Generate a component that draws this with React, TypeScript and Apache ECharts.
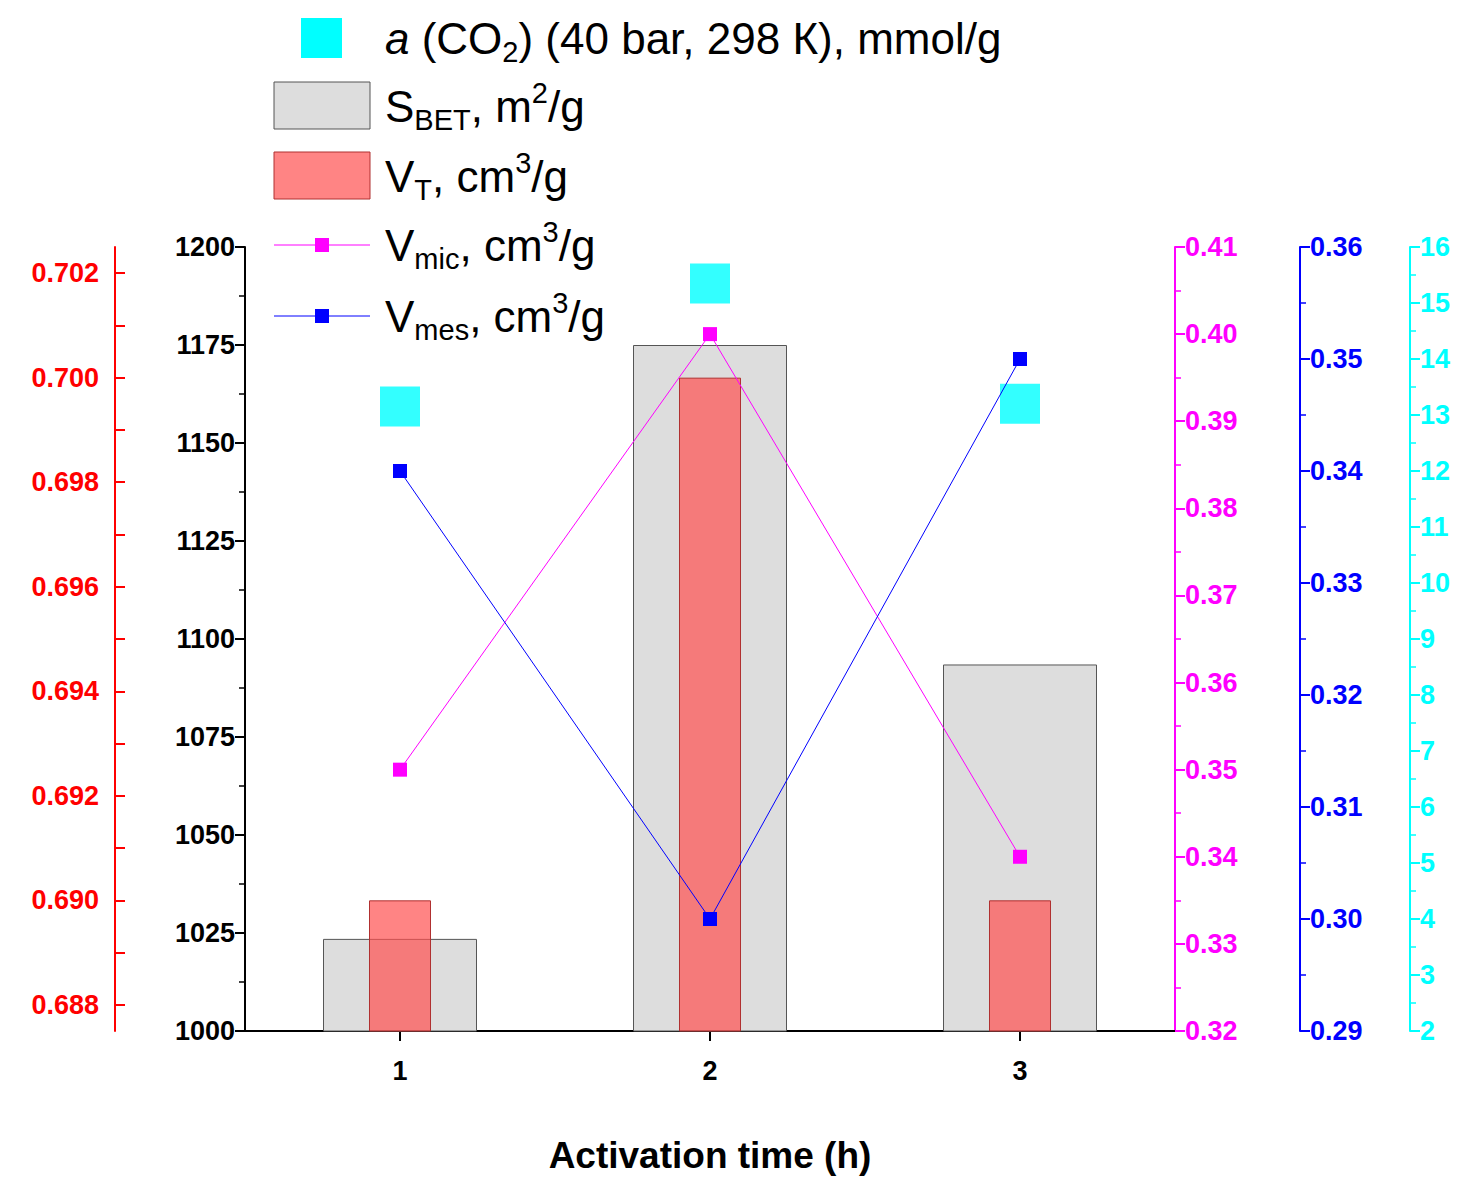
import React, { useEffect, useRef } from "react";
import * as echarts from "echarts";

const categories = [1, 2, 3];
const sBet = [1023.5, 1175, 1093.5];
const vT = [0.690, 0.700, 0.690];
const vMic = [0.350, 0.400, 0.340];
const vMes = [0.340, 0.300, 0.350];
const co2 = [13.15, 15.35, 13.2];
const redTicks = [0.688, 0.69, 0.692, 0.694, 0.696, 0.698, 0.7, 0.702];
const redMinor = [0.688, 0.689, 0.69, 0.691, 0.692, 0.693, 0.694, 0.695, 0.696, 0.697, 0.698, 0.699, 0.7, 0.701, 0.702];

const F = "Liberation Sans, Arial, sans-serif";
const FS = 27;

function yAx(color: string, pos: string, offset: number, min: number, max: number, interval: number, dec: number, extra: any = {}) {
  return {
    type: "value", position: pos, offset, min, max, interval,
    axisLine: { show: true, lineStyle: { color, width: 2 } },
    axisTick: { show: true, length: 10, lineStyle: { color, width: 2 } },
    minorTick: { show: true, splitNumber: 2, length: 6, lineStyle: { color, width: 1.5 } },
    splitLine: { show: false },
    axisLabel: { color, fontFamily: F, fontWeight: "bold", fontSize: FS, margin: 10, formatter: (v: number) => v.toFixed(dec) },
    ...extra,
  };
}

export default function App() {
  const ref = useRef<HTMLDivElement>(null);
  useEffect(() => {
    document.body.style.margin = "0";
    const chart = echarts.init(ref.current!, null, { renderer: "svg" });
    const xBase = {
      type: "value", min: 0.5, max: 3.5, interval: 0.5,
      splitLine: { show: false },
    };
    const mkText = (x: number, y: number, t: string) => ({
      type: "text", x, y,
      style: {
        text: t, fill: "#000", fontFamily: F, fontSize: 44, verticalAlign: "middle",
        rich: {
          n: { fontSize: 44, fontFamily: F, lineHeight: 56 },
          i: { fontSize: 44, fontFamily: F, fontStyle: "italic", lineHeight: 56 },
          sub: { fontSize: 29, fontFamily: F, verticalAlign: "bottom", lineHeight: 56, padding: [20, 0, 0, 0] },
          sup: { fontSize: 29, fontFamily: F, verticalAlign: "top", lineHeight: 56, padding: [0, 0, 18, 0] },
        },
      },
    });
    chart.setOption({
      animation: false,
      grid: { left: 245, right: 307, top: 247, bottom: 141 },
      xAxis: [
        {
          ...xBase,
          name: "Activation time (h)", nameLocation: "middle", nameGap: 106,
          nameTextStyle: { fontFamily: F, fontWeight: "bold", fontSize: 37, color: "#000" },
          axisLine: { lineStyle: { color: "#000", width: 2 } },
          axisTick: { show: true, length: 10, inside: false, customValues: [1, 2, 3], lineStyle: { color: "#000", width: 2 } },
          minorTick: { show: false },
          axisLabel: { customValues: categories, color: "#000", fontFamily: F, fontWeight: "bold", fontSize: FS, margin: 26 },
        },
        { ...xBase, show: false },
      ],
      yAxis: [
        yAx("#000", "left", 0, 1000, 1200, 25, 0),
        {
          type: "value", position: "left", offset: 130, min: 0.6875, max: 0.7025,
          axisLine: { show: true, lineStyle: { color: "#ff0000", width: 2 } },
          axisTick: { show: true, inside: true, length: 10, customValues: redMinor, lineStyle: { color: "#ff0000", width: 2 } },
          splitLine: { show: false },
          axisLabel: { customValues: redTicks, color: "#ff0000", fontFamily: F, fontWeight: "bold", fontSize: FS, margin: 16, formatter: (v: number) => v.toFixed(3) },
        },
        yAx("#ff00ff", "right", 0, 0.32, 0.41, 0.01, 2),
        yAx("#0000ff", "right", 125, 0.29, 0.36, 0.01, 2),
        yAx("#00ffff", "right", 235, 2, 16, 1, 0),
      ],
      series: [
        {
          type: "bar", xAxisIndex: 0, yAxisIndex: 0, barWidth: 154,
          data: categories.map((c, i) => [c, sBet[i]]),
          itemStyle: { color: "#dddddd", borderColor: "#555", borderWidth: 1 },
        },
        {
          type: "bar", xAxisIndex: 1, yAxisIndex: 1, barWidth: 62,
          data: categories.map((c, i) => [c, vT[i]]),
          itemStyle: { color: "rgba(255,80,80,0.7)", borderColor: "#b03030", borderWidth: 1 },
        },
        {
          type: "line", xAxisIndex: 0, yAxisIndex: 2, symbol: "rect", symbolSize: 14,
          data: categories.map((c, i) => [c, vMic[i]]),
          lineStyle: { color: "#ff00ff", width: 1 }, itemStyle: { color: "#ff00ff" },
        },
        {
          type: "line", xAxisIndex: 0, yAxisIndex: 3, symbol: "rect", symbolSize: 14,
          data: categories.map((c, i) => [c, vMes[i]]),
          lineStyle: { color: "#0000ff", width: 1 }, itemStyle: { color: "#0000ff" },
        },
        {
          type: "scatter", xAxisIndex: 0, yAxisIndex: 4, symbol: "rect", symbolSize: 40,
          data: categories.map((c, i) => [c, co2[i]]),
          itemStyle: { color: "#00ffff" },
        },
      ],
      graphic: [
        { type: "rect", shape: { x: 301, y: 18, width: 41, height: 40 }, style: { fill: "#00ffff" } },
        mkText(385, 38, "{i|a} {n|(CO}{sub|2}{n|) (40 bar, 298 К), mmol/g}"),
        { type: "rect", shape: { x: 274, y: 82, width: 96, height: 47 }, style: { fill: "#dddddd", stroke: "#555", lineWidth: 1 } },
        mkText(385, 106, "{n|S}{sub|BET}{n|, m}{sup|2}{n|/g}"),
        { type: "rect", shape: { x: 274, y: 152, width: 96, height: 47 }, style: { fill: "rgba(255,80,80,0.7)", stroke: "#b03030", lineWidth: 1 } },
        mkText(385, 176, "{n|V}{sub|T}{n|, cm}{sup|3}{n|/g}"),
        { type: "line", shape: { x1: 274, y1: 245, x2: 370, y2: 245 }, style: { stroke: "#ff00ff", lineWidth: 1 } },
        { type: "rect", shape: { x: 315, y: 238, width: 14, height: 14 }, style: { fill: "#ff00ff" } },
        mkText(385, 245, "{n|V}{sub|mic}{n|, cm}{sup|3}{n|/g}"),
        { type: "line", shape: { x1: 274, y1: 316, x2: 370, y2: 316 }, style: { stroke: "#0000ff", lineWidth: 1 } },
        { type: "rect", shape: { x: 315, y: 309, width: 14, height: 14 }, style: { fill: "#0000ff" } },
        mkText(385, 316, "{n|V}{sub|mes}{n|, cm}{sup|3}{n|/g}"),
      ],
    });
    return () => chart.dispose();
  }, []);
  return <div ref={ref} style={{ width: 1482, height: 1179 }} />;
}
